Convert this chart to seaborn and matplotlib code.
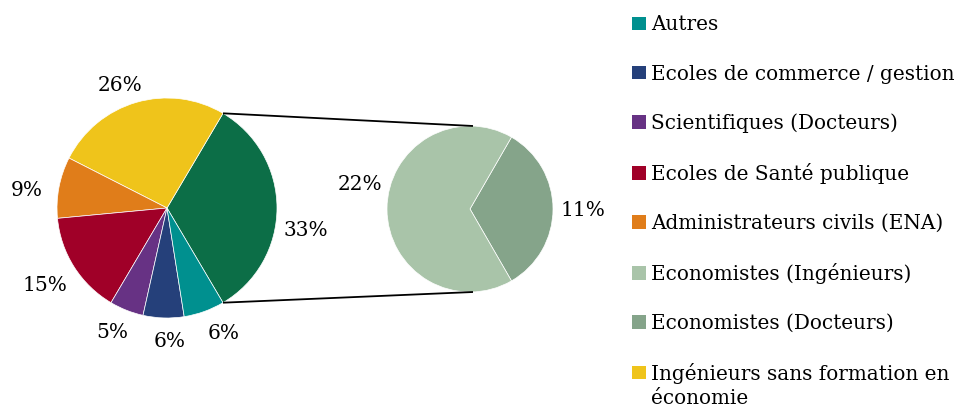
import matplotlib
matplotlib.use("Agg")
import matplotlib.pyplot as plt
from matplotlib.legend_handler import HandlerPatch
from matplotlib.patches import Rectangle
import numpy as np
import seaborn as sns

# Main pie: share of each profile (percent)
main_labels = ["Economistes", "Ingénieurs sans formation en\néconomie",
               "Administrateurs civils (ENA)", "Ecoles de Santé publique",
               "Scientifiques (Docteurs)", "Ecoles de commerce / gestion", "Autres"]
main_values = [33, 26, 9, 15, 5, 6, 6]
main_colors = ["#0c6e47", "#efc41b", "#e07d1a", "#a00028", "#673284", "#25407a", "#00908f"]

# Breakdown of the economists slice (percent of the total)
sub_labels = ["Economistes (Docteurs)", "Economistes (Ingénieurs)"]
sub_values = [11, 22]
sub_colors = ["#85a48a", "#a9c4a9"]

legend_order = ["Autres", "Ecoles de commerce / gestion", "Scientifiques (Docteurs)",
                "Ecoles de Santé publique", "Administrateurs civils (ENA)",
                "Economistes (Ingénieurs)", "Economistes (Docteurs)",
                "Ingénieurs sans formation en\néconomie"]

sns.set_theme(style="white")
plt.rcParams["font.family"] = ["DejaVu Serif"]

W, H = 957, 409
fig = plt.figure(figsize=(W / 100, H / 100), dpi=100)
ax = fig.add_axes([0, 0, 1, 1])

fs_pct = 14.5
fs_leg = 14.4
main_center, main_r = (167, 201), 110
sub_center, sub_r = (470, 200), 83


def pct_of_total(values):
    total = sum(values)
    return lambda p: f"{round(p * total / 100):d}%"


start_main = -main_values[0] / sum(main_values) * 360 / 2
w_main, _, p_main = ax.pie(
    main_values, colors=main_colors, startangle=start_main, counterclock=True,
    center=main_center, radius=main_r, autopct=pct_of_total(main_values), pctdistance=1.22,
    textprops=dict(fontsize=fs_pct, color="black"), frame=True,
    wedgeprops=dict(linewidth=0.5, edgecolor="white"))

start_sub = -sub_values[0] / sum(sub_values) * 360 / 2
w_sub, _, p_sub = ax.pie(
    sub_values, colors=sub_colors, startangle=start_sub, counterclock=True,
    center=sub_center, radius=sub_r, autopct=pct_of_total(sub_values), pctdistance=1.3,
    textprops=dict(fontsize=fs_pct, color="black"), frame=True,
    wedgeprops=dict(linewidth=0.5, edgecolor="white"))

# small placement tweaks for the percentage labels (pixels, x right / y up)
main_nudge = [(5, -22), (-9, -6), (-8, -8), (-9, -6), (-5, 0), (7, 1), (11, 1)]
sub_nudge = [(5, -2), (-2, 25)]
for txt, (dx, dy) in zip(list(p_main) + list(p_sub), main_nudge + sub_nudge):
    x, y = txt.get_position()
    txt.set_position((x + dx, y + dy))

ax.set_xlim(0, W)
ax.set_ylim(0, H)
ax.set_aspect("equal")
ax.axis("off")

# connector lines from the economists slice to the breakdown pie
w0 = w_main[0]
for ang, sgn in [(w0.theta2, 1), (w0.theta1, -1)]:
    x0 = main_center[0] + main_r * np.cos(np.radians(ang))
    y0 = main_center[1] + main_r * np.sin(np.radians(ang))
    x1 = sub_center[0] + 3
    y1 = sub_center[1] + sgn * sub_r
    ax.plot([x0, x1], [y0, y1], color="black", lw=1.3, solid_capstyle="butt")


def square_patch(legend, orig_handle, xdescent, ydescent, width, height, fontsize):
    return Rectangle((-xdescent, -ydescent), width, height)


def square_patch_top(legend, orig_handle, xdescent, ydescent, width, height, fontsize):
    # two-line label: keep the square level with the first line
    return Rectangle((-xdescent, -ydescent + 0.67 * fontsize), width, height)


handles_by_label = dict(zip(main_labels, w_main))
handles_by_label.update(dict(zip(sub_labels, w_sub)))
handles = [handles_by_label[l] for l in legend_order]
hmap = {h: HandlerPatch(patch_func=square_patch) for h in handles}
hmap[handles[-1]] = HandlerPatch(patch_func=square_patch_top)
leg = ax.legend(handles, legend_order, loc="upper left",
                bbox_to_anchor=(624 / W, 1 - 7.5 / H), bbox_transform=ax.transAxes,
                frameon=False, fontsize=fs_leg, handlelength=0.72, handleheight=0.66,
                handletextpad=0.25, labelspacing=1.5, borderaxespad=0,
                labelcolor="black", handler_map=hmap)
leg.get_texts()[-1].set_linespacing(1.32)
for h in leg.legend_handles:
    h.set_edgecolor("none")
    h.set_linewidth(0)

fig.savefig("out.png", dpi=100)
